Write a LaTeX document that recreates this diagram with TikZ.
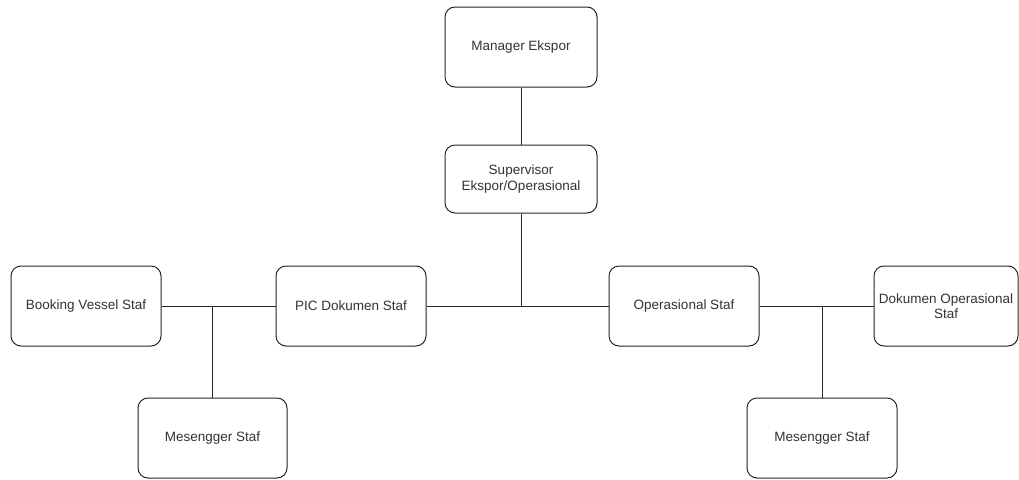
\documentclass[tikz,border=0pt]{standalone}
\usepackage{fontspec}
\setmainfont{Liberation Sans}
\begin{document}
\begin{tikzpicture}[x=1pt,y=-1pt,
  box/.style={draw=black!85, line width=1pt, rounded corners=10pt, fill=white,
    minimum width=150pt, minimum height=80pt, align=center, inner sep=1pt,
    text=black!80, font=\fontsize{13.5}{15.5}\selectfont},
  link/.style={draw=black!85, line width=1pt}]
\useasboundingbox (0,0) rectangle (1019,479);
\clip (0,0) rectangle (1019,479);
\node[box, minimum width=152pt] (mgr) at (521,47) {Manager Ekspor};
\node[box, minimum width=152pt, minimum height=68pt] (sup) at (521,179) {Supervisor\\Ekspor/Operasional};
\node[box] (book) at (86,306) {Booking Vessel Staf};
\node[box] (pic) at (351,306) {PIC Dokumen Staf};
\node[box] (ops) at (684,306) {Operasional Staf};
\node[box, minimum width=144pt] (dok) at (946,306) {Dokumen Operasional\\Staf};
\node[box, minimum width=149pt] (mes1) at (212.5,438) {Mesengger Staf};
\node[box] (mes2) at (822,438) {Mesengger Staf};
\coordinate (jc) at (sup.south |- pic.east);
\coordinate (jl) at (mes1.north |- book.east);
\coordinate (jr) at (mes2.north |- ops.east);
\draw[link] (mgr) -- (sup);
\draw[link] (sup) -- (jc);
\draw[link] (pic) -- (ops);
\draw[link] (book) -- (pic);
\draw[link] (jl) -- (mes1);
\draw[link] (ops) -- (dok);
\draw[link] (jr) -- (mes2);
\end{tikzpicture}
\end{document}
